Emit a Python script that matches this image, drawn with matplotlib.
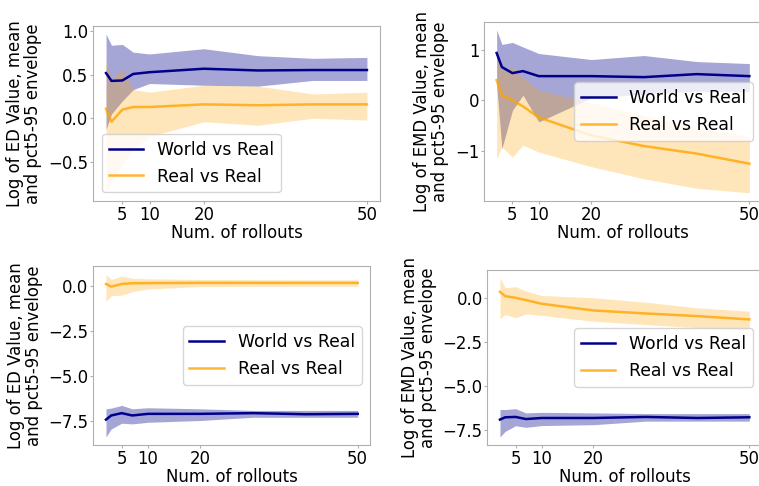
import matplotlib
matplotlib.use('Agg')
import matplotlib.pyplot as plt

plt.rcParams['font.family'] = 'DejaVu Sans'
plt.rcParams['font.size'] = 11.9

rollouts = [2, 3, 5, 7, 10, 20, 30, 40, 50]
xticks = [5, 10, 20, 50]

# ED, top left
ed_world_mean = [0.52, 0.43, 0.435, 0.51, 0.53, 0.57, 0.55, 0.555, 0.555]
ed_world_hi = [0.97, 0.84, 0.85, 0.76, 0.74, 0.80, 0.72, 0.69, 0.70]
ed_world_lo = [-0.13, 0.05, 0.20, 0.33, 0.40, 0.38, 0.37, 0.435, 0.435]
ed_real_mean = [0.11, -0.04, 0.10, 0.13, 0.13, 0.16, 0.15, 0.16, 0.16]
ed_real_hi = [0.66, 0.45, 0.56, 0.33, 0.30, 0.38, 0.37, 0.28, 0.30]
ed_real_lo = [-0.86, -0.75, -0.53, -0.35, -0.21, -0.04, -0.08, 0.0, -0.02]

# EMD, top right
emd_world_mean = [0.94, 0.66, 0.54, 0.58, 0.48, 0.48, 0.46, 0.52, 0.48]
emd_world_hi = [1.40, 1.11, 1.15, 1.06, 0.93, 0.81, 0.89, 0.77, 0.73]
emd_world_lo = [0.30, -0.96, -0.20, 0.10, -0.43, 0.05, 0.12, 0.18, 0.17]
emd_real_mean = [0.40, 0.10, 0.0, -0.12, -0.34, -0.70, -0.91, -1.06, -1.26]
emd_real_hi = [0.90, 0.60, 0.66, 0.45, 0.20, -0.05, -0.30, -0.55, -0.72]
emd_real_lo = [-1.16, -0.93, -1.13, -0.89, -1.03, -1.32, -1.56, -1.75, -1.84]

# ED, bottom left
ed2_world_mean = [-7.45, -7.22, -7.09, -7.22, -7.13, -7.13, -7.09, -7.15, -7.13]
ed2_world_hi = [-6.85, -6.81, -6.66, -6.85, -6.79, -6.85, -6.94, -6.94, -6.94]
ed2_world_lo = [-8.41, -7.97, -7.65, -7.69, -7.60, -7.50, -7.32, -7.32, -7.32]
ed2_real_mean = [0.09, -0.06, 0.09, 0.13, 0.14, 0.15, 0.15, 0.15, 0.15]
ed2_real_hi = [0.62, 0.34, 0.53, 0.41, 0.38, 0.34, 0.33, 0.32, 0.32]
ed2_real_lo = [-0.88, -0.56, -0.53, -0.34, -0.19, -0.06, -0.04, -0.04, -0.04]

# EMD, bottom right
emd2_world_mean = [-6.91, -6.78, -6.76, -6.88, -6.82, -6.82, -6.76, -6.82, -6.78]
emd2_world_hi = [-6.34, -6.34, -6.29, -6.53, -6.50, -6.53, -6.57, -6.57, -6.57]
emd2_world_lo = [-7.90, -7.58, -7.26, -7.35, -7.25, -7.20, -7.00, -7.00, -7.00]
emd2_real_mean = [0.34, 0.09, 0.0, -0.13, -0.34, -0.72, -0.89, -1.04, -1.23]
emd2_real_hi = [1.14, 0.57, 0.63, 0.38, 0.13, 0.0, -0.25, -0.57, -0.76]
emd2_real_lo = [-1.19, -0.95, -1.14, -0.91, -1.00, -1.33, -1.52, -1.70, -1.84]

W, H = 759, 486
fig = plt.figure(figsize=(W / 100, H / 100), dpi=100)


def make_ax(left, right, top, bottom):
    return fig.add_axes([left / W, (H - bottom) / H, (right - left) / W, (bottom - top) / H])


panels = [
    (make_ax(93, 380, 26, 201), 'ED', ed_world_mean, ed_world_lo, ed_world_hi,
     ed_real_mean, ed_real_lo, ed_real_hi, [-0.5, 0.0, 0.5, 1.0], 'lower left'),
    (make_ax(484, 762, 21.7, 201), 'EMD', emd_world_mean, emd_world_lo, emd_world_hi,
     emd_real_mean, emd_real_lo, emd_real_hi, [-1, 0, 1], 'center right'),
    (make_ax(93.4, 370.3, 266.3, 445), 'ED', ed2_world_mean, ed2_world_lo, ed2_world_hi,
     ed2_real_mean, ed2_real_lo, ed2_real_hi, [-7.5, -5.0, -2.5, 0.0], 'center right'),
    (make_ax(487.5, 761.8, 269.7, 445), 'EMD', emd2_world_mean, emd2_world_lo, emd2_world_hi,
     emd2_real_mean, emd2_real_lo, emd2_real_hi, [-7.5, -5.0, -2.5, 0.0], 'center right'),
]

for ax, name, wm, wlo, whi, rm, rlo, rhi, yt, loc in panels:
    ax.plot(rollouts, wm, color='darkblue', lw=1.8, label='World vs Real')
    ax.fill_between(rollouts, wlo, whi, color='darkblue', alpha=0.35, lw=0)
    ax.plot(rollouts, rm, color='orange', alpha=0.8, lw=1.8, label='Real vs Real')
    ax.fill_between(rollouts, rlo, rhi, color='orange', alpha=0.27, lw=0)
    ax.set_xticks(xticks)
    ax.set_yticks(yt)
    ax.set_xlabel('Num. of rollouts', labelpad=0)
    ax.set_ylabel('Log of %s Value, mean\nand pct5-95 envelope' % name, linespacing=1.0)
    for s in ax.spines.values():
        s.set_color('#b0b0b0')
    ax.tick_params(length=2, color='#b0b0b0', pad=1.5)
    ax.legend(loc=loc, fontsize=12.4)

fig.savefig('out.png', dpi=100)
